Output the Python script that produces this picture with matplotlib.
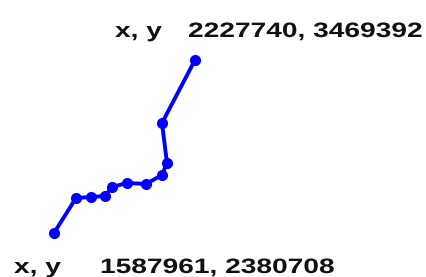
import matplotlib
matplotlib.use("Agg")
import matplotlib.pyplot as plt
import matplotlib.patheffects as path_effects
from matplotlib.transforms import Affine2D

# path of the line, first point is the start label, last point the end label
xs = [1587961, 1687783, 1755830, 1819348, 1851107, 1919162, 2005365, 2077957, 2100642, 2077957, 2227740]
ys = [2380708, 2600963, 2607256, 2613549, 2670186, 2695358, 2689065, 2745702, 2821218, 3072938, 3469392]

start_label = "1587961, 2380708"
end_label = "2227740, 3469392"
coord_tag = "x, y"


class Stretch(path_effects.AbstractPathEffect):
    # widen glyphs horizontally, the source picture was stretched
    def __init__(self, sx):
        super().__init__()
        self.sx = sx

    def draw_path(self, renderer, gc, tpath, affine, rgbFace=None):
        renderer.draw_path(gc, tpath, Affine2D().scale(self.sx, 1) + affine, rgbFace)


fig = plt.figure(figsize=(4.26, 2.77), dpi=100)
ax = fig.add_axes([0, 0, 1, 1])
ax.plot(xs, ys, color="#0000ff", linewidth=2.8, marker="o", markersize=7)

# map data so the points sit where they are in the reference
px_x = (xs[-1] - xs[0]) / 141.0
px_y = (ys[-1] - ys[0]) / 173.0
ax.set_xlim(xs[0] - 54 * px_x, xs[0] + 372 * px_x)
ax.set_ylim(ys[0] - 44 * px_y, ys[0] + 233 * px_y)
ax.axis("off")

font = dict(family=["Liberation Sans", "DejaVu Sans"], fontweight="bold", fontsize=15,
            color="#111111", ha="left", va="baseline")
effects = [Stretch(1.35)]
fig.text(115 / 426, 1 - 37 / 277, coord_tag, path_effects=effects, **font)
fig.text(188 / 426, 1 - 37 / 277, end_label, path_effects=effects, **font)
fig.text(14 / 426, 1 - 273 / 277, coord_tag, path_effects=effects, **font)
fig.text(100 / 426, 1 - 273 / 277, start_label, path_effects=effects, **font)

plt.savefig("out.png", dpi=100)
